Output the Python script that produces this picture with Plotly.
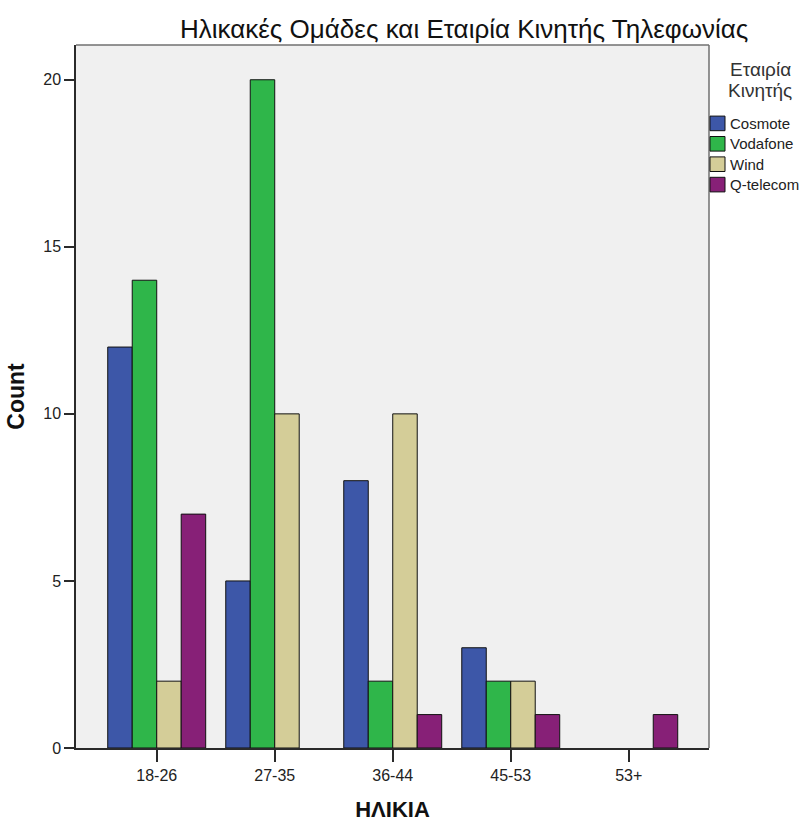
import plotly.graph_objects as go

# ---------------- data ----------------
age_groups = ["18-26", "27-35", "36-44", "45-53", "53+"]
series_names = ["Cosmote", "Vodafone", "Wind", "Q-telecom"]
cosmote = [12, 5, 8, 3, 0]
vodafone = [14, 20, 2, 2, 0]
wind = [2, 10, 10, 2, 0]
qtelecom = [7, 0, 1, 1, 1]
series_values = [cosmote, vodafone, wind, qtelecom]
series_colors = ["#3D57A8", "#2FB64A", "#D4CD98", "#872077"]
y_ticks = [0, 5, 10, 15, 20]

title_text = "Ηλικακές Ομάδες και Εταιρία Κινητής Τηλεφωνίας"
legend_title_lines = ["Εταιρία", "Κινητής"]
x_title = "ΗΛΙΚΙΑ"
y_title = "Count"

# ---------------- layout geometry ----------------
W, H = 805, 822
L, R, T, B = 76, 709, 45, 748


def px_x(px):
    return (px - L) / (R - L)


def px_y(py):
    return (B - py) / (B - T)


FONT = "Arial, Liberation Sans, sans-serif"

fig = go.Figure()
for name, vals, col in zip(series_names, series_values, series_colors):
    # zero counts draw no bar (as in the original chart)
    fig.add_trace(go.Bar(
        x=age_groups, y=[v if v else None for v in vals], name=name,
        marker=dict(color=col, line=dict(color="#111111", width=1)),
        showlegend=False,
    ))

shapes = [
    dict(type="line", xref="paper", yref="paper", x0=0, x1=1, y0=1, y1=1,
         line=dict(color="#707070", width=1.5)),
    dict(type="line", xref="paper", yref="paper", x0=1, x1=1, y0=0, y1=1,
         line=dict(color="#707070", width=1.5)),
]
annotations = [
    dict(text=title_text, xref="paper", yref="paper", x=px_x(464), y=px_y(29),
         xanchor="center", yanchor="middle", showarrow=False,
         font=dict(family=FONT, size=26, color="#111111")),
]
# legend title
for i, line in enumerate(legend_title_lines):
    annotations.append(dict(text=line, xref="paper", yref="paper",
                            x=px_x(760), y=px_y(70 + 20.5 * i),
                            xanchor="center", yanchor="middle", showarrow=False,
                            font=dict(family=FONT, size=19, color="#333333")))
# legend items
for i, (name, col) in enumerate(zip(series_names, series_colors)):
    cy = 123.4 + 20.4 * i
    shapes.append(dict(type="rect", xref="paper", yref="paper",
                       x0=px_x(710), x1=px_x(725), y0=px_y(cy + 7.3), y1=px_y(cy - 7.3),
                       fillcolor=col, line=dict(color="#111111", width=1)))
    annotations.append(dict(text=name, xref="paper", yref="paper",
                            x=px_x(728), y=px_y(cy), xanchor="left", yanchor="middle",
                            showarrow=False,
                            font=dict(family=FONT, size=15, color="#222222")))

fig.update_layout(
    width=W, height=H,
    margin=dict(l=L, r=W - R, t=T, b=H - B, autoexpand=False),
    paper_bgcolor="white",
    plot_bgcolor="#F0F0F0",
    barmode="group",
    bargap=0.17,
    bargroupgap=0,
    font=dict(family=FONT, color="#222222"),
    shapes=shapes,
    annotations=annotations,
    showlegend=False,
)
fig.update_xaxes(
    type="category", range=[-0.684, 4.68],
    showline=True, linecolor="#2A2A2A", linewidth=1.5, mirror=False,
    ticks="outside", ticklen=12, tickcolor="#2A2A2A", tickwidth=1.5,
    tickfont=dict(family=FONT, size=16, color="#222222"),
    showgrid=False, zeroline=False,
    title=dict(text=x_title, font=dict(family=FONT, size=22, color="#111111", weight="bold"),
               standoff=20),
    automargin=False,
)
fig.update_yaxes(
    range=[0, 21.04], tickvals=y_ticks,
    showline=True, linecolor="#2A2A2A", linewidth=1.5, mirror=False,
    ticks="outside", ticklen=10, tickcolor="#2A2A2A", tickwidth=1.5,
    tickfont=dict(family=FONT, size=16, color="#222222"),
    showgrid=False, zeroline=False,
    title=dict(text=y_title, font=dict(family=FONT, size=23, color="#111111", weight="bold"),
               standoff=12),
    automargin=False,
)

fig.write_html("out.html")
